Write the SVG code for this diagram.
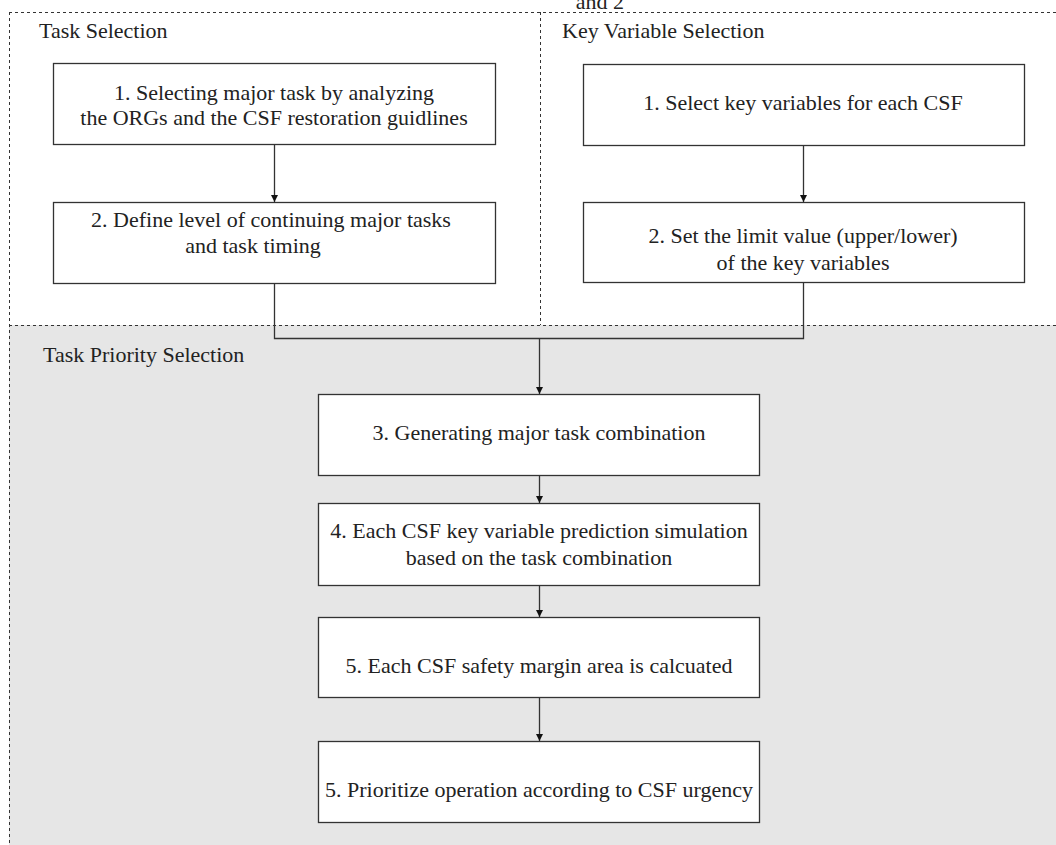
<svg xmlns="http://www.w3.org/2000/svg" width="1056" height="845" viewBox="0 0 1056 845" font-family="Liberation Serif, serif">
<style>
text{font-family:'Liberation Serif',serif;font-size:22px;fill:#222}
.c{text-anchor:middle}
.box{fill:#fff;stroke:#333;stroke-width:1.3}
.dash{fill:none;stroke:#333;stroke-width:1;stroke-dasharray:3 3}
.conn{fill:none;stroke:#333;stroke-width:1.3}
</style>
<defs>
<marker id="arr" markerWidth="10" markerHeight="10" refX="9" refY="5" orient="auto" markerUnits="userSpaceOnUse" viewBox="0 0 10 10">
<path d="M2,1.5 L9,5 L2,8.5 Z" fill="#111"/>
</marker>
</defs>
<rect width="1056" height="845" fill="#fff"/>
<g id="regions">
<rect x="9" y="325" width="1047" height="520" fill="#e6e6e6"/>
<path class="dash" d="M9,12.5 H1056 M9.5,12 V845 M540.5,12 V325 M9,325.5 H1056"/>
<text x="600" y="9" class="c">and 2</text>
<text x="39" y="38">Task Selection</text>
<text x="562" y="38">Key Variable Selection</text>
<text x="43" y="362">Task Priority Selection</text>
</g>
<g id="connectors">
<path class="conn" d="M274.5,144 V202" marker-end="url(#arr)"/>
<path class="conn" d="M803.5,145 V202" marker-end="url(#arr)"/>
<path class="conn" d="M274.5,283 V338.5 H803.5 V282"/>
<path class="conn" d="M539.5,338 V394" marker-end="url(#arr)"/>
<path class="conn" d="M539.5,475 V503" marker-end="url(#arr)"/>
<path class="conn" d="M539.5,585 V617" marker-end="url(#arr)"/>
<path class="conn" d="M539.5,697 V741" marker-end="url(#arr)"/>
</g>
<g id="n1">
<rect class="box" x="53.5" y="63.5" width="442" height="81"/>
<text x="274" y="100" class="c">1. Selecting major task by analyzing</text>
<text x="274" y="125" class="c">the ORGs and the CSF restoration guidlines</text>
</g>
<g id="n2">
<rect class="box" x="53.5" y="202.5" width="442" height="81"/>
<text x="271" y="227" class="c">2. Define level of continuing major tasks</text>
<text x="253" y="253" class="c">and task timing</text>
</g>
<g id="k1">
<rect class="box" x="583.5" y="64.5" width="441" height="81"/>
<text x="803" y="110" class="c">1. Select key variables for each CSF</text>
</g>
<g id="k2">
<rect class="box" x="583.5" y="202.5" width="441" height="80"/>
<text x="803" y="243" class="c">2. Set the limit value (upper/lower)</text>
<text x="803" y="270" class="c">of the key variables</text>
</g>
<g id="n3">
<rect class="box" x="318.5" y="394.5" width="441" height="81"/>
<text x="539" y="440" class="c">3. Generating major task combination</text>
</g>
<g id="n4">
<rect class="box" x="318.5" y="503.5" width="441" height="82"/>
<text x="539" y="538" class="c">4. Each CSF key variable prediction simulation</text>
<text x="539" y="565" class="c">based on the task combination</text>
</g>
<g id="n5">
<rect class="box" x="318.5" y="617.5" width="441" height="80"/>
<text x="539" y="673" class="c">5. Each CSF safety margin area is calcuated</text>
</g>
<g id="n6">
<rect class="box" x="318.5" y="741.5" width="441" height="81"/>
<text x="539" y="797" class="c">5. Prioritize operation according to CSF urgency</text>
</g>
</svg>
